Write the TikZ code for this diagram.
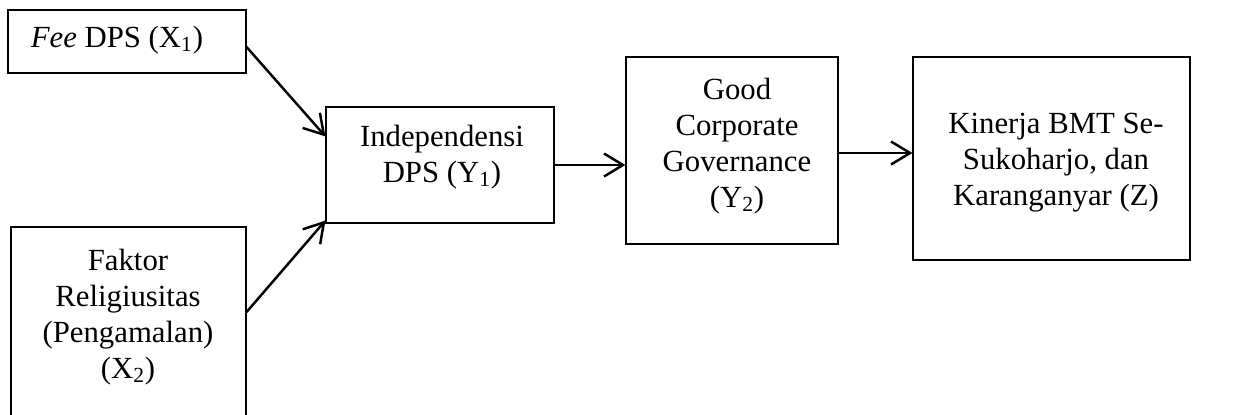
\documentclass[tikz,border=0pt]{standalone}
\usepackage{fontspec}
\setmainfont{Liberation Serif}
\usetikzlibrary{arrows.meta}

\begin{document}
\begin{tikzpicture}[x=0.02cm,y=-0.02cm,
        kotak/.style={draw,line width=0.7pt,inner sep=0pt},
        teks/.style={align=center,font=\fontsize{17.5}{20.5}\selectfont,inner sep=0pt},
        panah/.style={line width=1.4pt,-{Straight Barb[length=3.8mm,width=4.6mm]}}]
        % \draw[help lines,step=50] (0,0) grid (1235,414);
        \useasboundingbox (0,0) rectangle (1235,414);

        \node[kotak,minimum width=4.76cm,minimum height=1.26cm] (x1) at (127,41.5) {};
        \node[kotak,minimum width=4.70cm,minimum height=3.86cm] (x2) at (128.5,323.5) {};
        \node[kotak,minimum width=4.56cm,minimum height=2.32cm] (y1) at (440,165) {};
        \node[kotak,minimum width=4.24cm,minimum height=3.74cm] (y2) at (732,150.5) {};
        \node[kotak,minimum width=5.54cm,minimum height=4.06cm] (z) at (1051.5,158.5) {};

        \node[teks] (x1t) at (117,40) {\textit{Fee} DPS (X\textsubscript{1})};
        \node[teks] (x2t) at (128,317) {Faktor\\Religiusitas\\(Pengamalan)\\(X\textsubscript{2})};
        \node[teks] (y1t) at (442,157) {Independensi\\DPS (Y\textsubscript{1})};
        \node[teks] (y2t) at (737,146) {Good\\Corporate\\Governance\\(Y\textsubscript{2})};
        \node[teks] (zt) at (1056,163) {Kinerja BMT Se-\\Sukoharjo, dan\\Karanganyar (Z)};

        \draw[panah] ([yshift=-0.11cm]x1.east) -- ([yshift=-0.6cm]y1.north west);
        \draw[panah] ([yshift=0.23cm]x2.east) -- ([yshift=0.06cm]y1.south west);
        \draw[panah] (y1.east) -- (y1.east -| y2.west);
        \draw[panah] ([yshift=-0.05cm]y2.east) -- ([yshift=-0.05cm]y2.east -| z.west);
        % \draw[panah] (y1.south) -- (z.south);

\end{tikzpicture}
\end{document}
